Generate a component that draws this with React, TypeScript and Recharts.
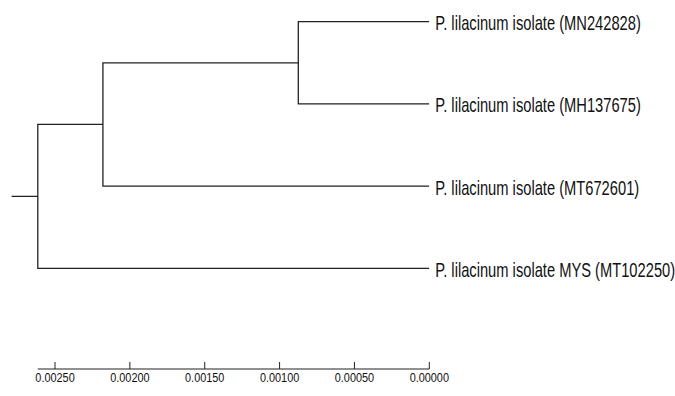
import React from 'react';
import { LineChart, Line, XAxis, YAxis, ReferenceLine } from 'recharts';

// leaf labels, top to bottom
const taxa = [
  'P. lilacinum isolate (MN242828)',
  'P. lilacinum isolate (MH137675)',
  'P. lilacinum isolate (MT672601)',
  'P. lilacinum isolate MYS (MT102250)',
];

// clusters: [childA, childB] (ids >= taxa.length are earlier clusters)
const merges = [
  [0, 1],
  [4, 2],
  [5, 3],
];
const mergeHeights = [0.000875, 0.00218, 0.002615];
const rootStem = 0.00279;

const axisTicks = [0.0025, 0.002, 0.0015, 0.001, 0.0005, 0];

const Y_MIN = -0.25;
const Y_MAX = 4.225;
const LINE = '#222';
const FONT = '"Liberation Sans", Arial, sans-serif';

type Pt = { x: number; y: number };

// build elbow paths from the merge table
const nodeH: number[] = taxa.map(() => 0);
const nodeY: number[] = taxa.map((_, i) => i);
const branches: Pt[][] = merges.map(([a, b], i) => {
  const h = mergeHeights[i];
  nodeH.push(h);
  nodeY.push((nodeY[a] + nodeY[b]) / 2);
  return [
    { x: nodeH[a], y: nodeY[a] },
    { x: h, y: nodeY[a] },
    { x: h, y: nodeY[b] },
    { x: nodeH[b], y: nodeY[b] },
  ];
});
const rootIdx = nodeH.length - 1;
branches.push([
  { x: nodeH[rootIdx], y: nodeY[rootIdx] },
  { x: rootStem, y: nodeY[rootIdx] },
]);

const TaxonTick = (props: any) => {
  const { x, y, payload } = props;
  return (
    <text
      transform={`translate(${x + 6} ${y + 8.5}) scale(1 1.4)`}
      fontFamily={FONT}
      fontSize={14.7}
      fill="#111"
      textAnchor="start"
    >
      {taxa[payload.value]}
    </text>
  );
};

const ScaleTick = (props: any) => {
  const { x, y, payload } = props;
  return (
    <g>
      <line x1={x} x2={x} y1={y - 7} y2={y} stroke={LINE} strokeWidth={1} />
      <text
        transform={`translate(${x} ${y + 13}) scale(1 1.22)`}
        fontFamily={FONT}
        fontSize={10.9}
        fill="#111"
        textAnchor="middle"
      >
        {payload.value.toFixed(5)}
      </text>
    </g>
  );
};

const App: React.FC = () => {
  return (
    <div style={{ position: 'absolute', left: 0, top: 0, background: '#fff' }}>
      <LineChart width={675} height={396} margin={{ top: 1.15, right: 0, left: 10.1, bottom: 0 }}>
        <XAxis
          dataKey="x"
          type="number"
          domain={[0, 0.0028]}
          reversed
          allowDataOverflow
          ticks={axisTicks}
          interval={0}
          height={27}
          axisLine={false}
          tickLine={false}
          tickSize={0}
          tickMargin={0}
          tick={<ScaleTick />}
        />
        <YAxis
          type="number"
          orientation="right"
          domain={[Y_MIN, Y_MAX]}
          reversed
          allowDataOverflow
          ticks={[0, 1, 2, 3]}
          interval={0}
          width={245.7}
          axisLine={false}
          tickLine={false}
          tickSize={0}
          tickMargin={0}
          tick={<TaxonTick />}
        />
        <ReferenceLine
          segment={[
            { x: nodeH[rootIdx], y: Y_MAX },
            { x: 0, y: Y_MAX },
          ]}
          stroke={LINE}
          strokeWidth={1.2}
          ifOverflow="visible"
        />
        {branches.map((pts, i) => (
          <Line
            key={i}
            data={pts}
            dataKey="y"
            type="linear"
            stroke={LINE}
            strokeWidth={1.3}
            dot={false}
            activeDot={false}
            isAnimationActive={false}
          />
        ))}
      </LineChart>
    </div>
  );
};

export default App;
